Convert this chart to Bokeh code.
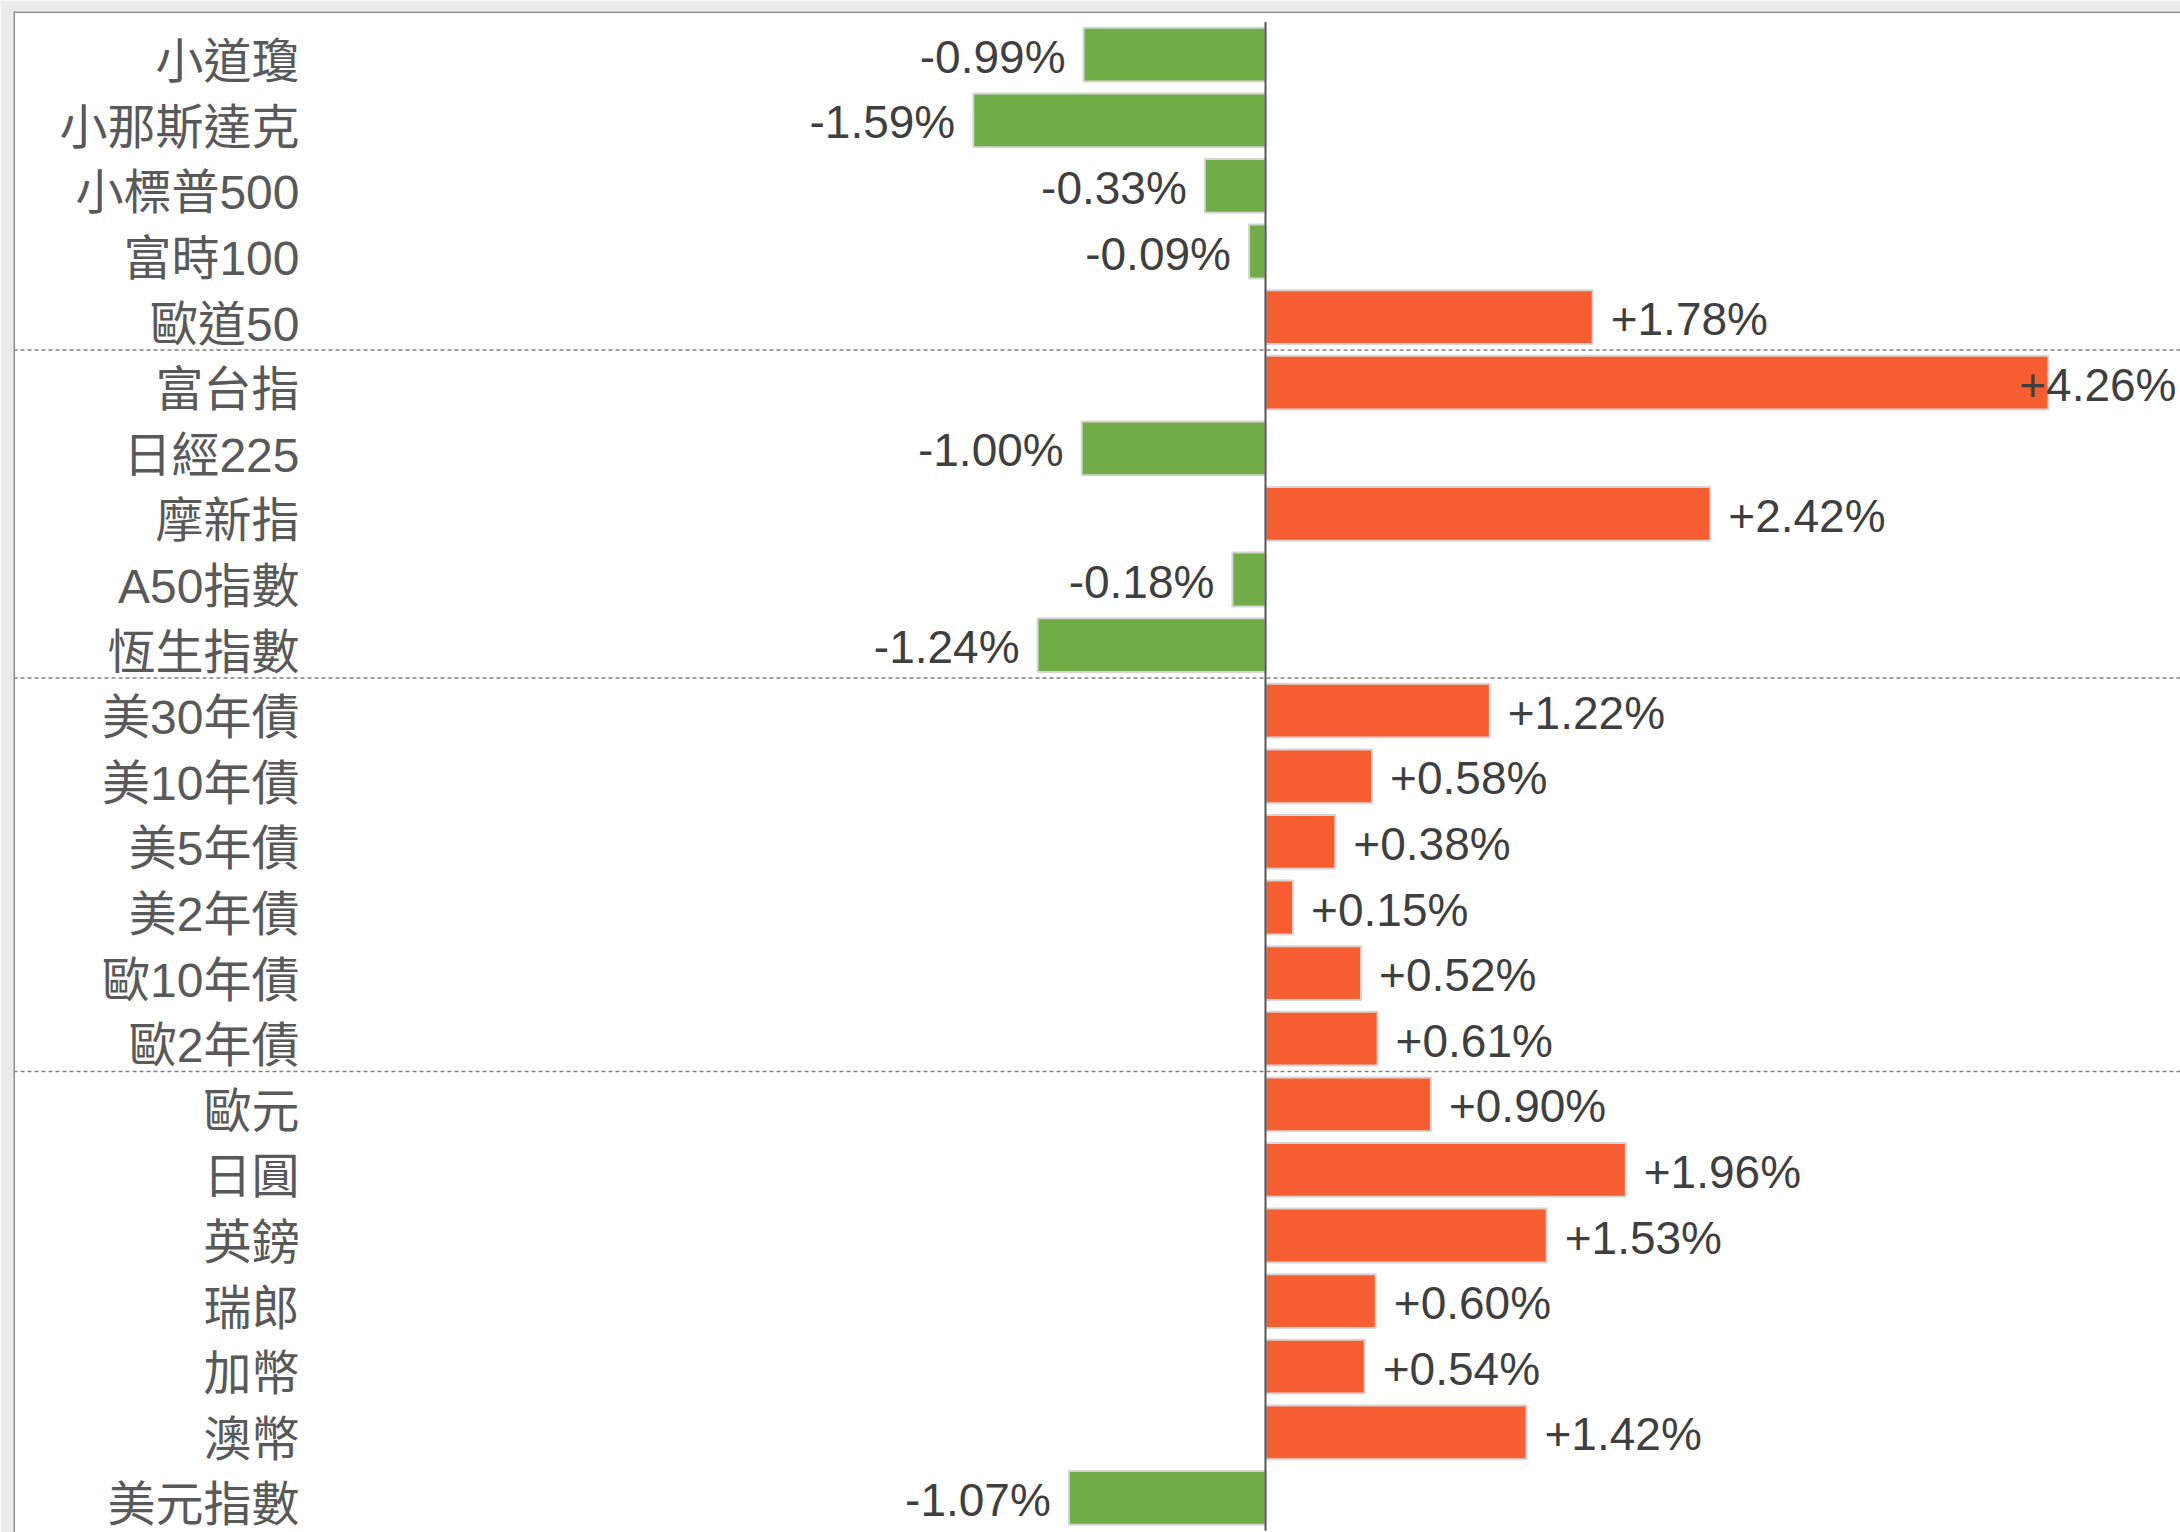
from bokeh.plotting import figure
from bokeh.models import ColumnDataSource, Range1d, Span
from bokeh.core.properties import value
from bokeh.embed import file_html
from bokeh.resources import INLINE

# ---- data ----
categories = ["小道瓊", "小那斯達克", "小標普500", "富時100", "歐道50",
              "富台指", "日經225", "摩新指", "A50指數", "恆生指數",
              "美30年債", "美10年債", "美5年債", "美2年債", "歐10年債", "歐2年債",
              "歐元", "日圓", "英鎊", "瑞郎", "加幣", "澳幣", "美元指數"]
changes = [-0.99, -1.59, -0.33, -0.09, 1.78,
           4.26, -1.00, 2.42, -0.18, -1.24,
           1.22, 0.58, 0.38, 0.15, 0.52, 0.61,
           0.90, 1.96, 1.53, 0.60, 0.54, 1.42, -1.07]
group_sizes = [5, 5, 6, 7]

# ---- layout constants ----
W, H = 2180, 1532
BL, BT = 13, 11
FRAME_W, FRAME_H = W - BL, H - BT
PX_PER_PCT = 183.8
ROW_PX = 65.6
ZERO_PX = 1252           # zero position from frame left
FIRST_ROW_PX = 43.2      # first row centre from frame top
LABEL_PX = 286           # right edge of category labels from frame left
FONT_SIZE = 46
LABEL_FONT_SIZE = 48
GAP = 18

x_start = -ZERO_PX / PX_PER_PCT
x_end = (FRAME_W - ZERO_PX) / PX_PER_PCT
y_top = -FIRST_ROW_PX / ROW_PX
y_bottom = y_top + FRAME_H / ROW_PX
label_x = (LABEL_PX - ZERO_PX) / PX_PER_PCT

GREEN = "#70AD47"
RED = "#F65D31"

char_w = {"+": 0.584, "-": 0.333, ".": 0.278, "%": 0.889}

def text_width(s):
    return sum(char_w.get(c, 0.556) for c in s) * FONT_SIZE

rows = list(range(len(categories)))
texts, xs, aligns, offs = [], [], [], []
for v in changes:
    t = ("+" if v > 0 else "") + f"{v:.2f}%"
    texts.append(t)
    if v < 0:
        xs.append(v); aligns.append("right"); offs.append(-GAP)
    else:
        end_px = ZERO_PX + v * PX_PER_PCT + GAP + text_width(t)
        if end_px > FRAME_W:
            xs.append(x_end); aligns.append("right"); offs.append(-4)
        else:
            xs.append(v); aligns.append("left"); offs.append(GAP)

src = ColumnDataSource(dict(
    y=rows, v=changes, cat=categories,
    color=[RED if v > 0 else GREEN for v in changes],
    txt=texts, tx=xs, align=aligns, off=offs,
    lx=[label_x] * len(categories),
))

p = figure(width=W, height=H, output_backend="svg", toolbar_location=None,
           x_range=Range1d(x_start, x_end), y_range=Range1d(y_bottom, y_top),
           min_border_left=BL, min_border_top=BT, min_border_right=0, min_border_bottom=0)
p.xaxis.visible = False
p.yaxis.visible = False
p.xgrid.grid_line_color = None
p.ygrid.grid_line_color = None
p.outline_line_color = None
p.border_fill_color = "#ebebeb"
p.background_fill_color = "white"

p.hbar(y="y", left=0, right="v", height=0.82, fill_color="color",
       line_color="#d6d6d6", line_width=2, source=src)

# group separators
acc = 0
for g in group_sizes[:-1]:
    acc += g
    p.add_layout(Span(location=acc - 0.5, dimension="width", line_color="#7f7f7f",
                      line_width=1.5, line_dash="4 3"))

# zero line
p.segment(x0=0, y0=-0.5, x1=0, y1=len(categories) - 0.5, line_color="#555555", line_width=2)

# panel border (top, left)
p.add_layout(Span(location=x_start, dimension="height", line_color="#8c8c8c", line_width=3))
p.add_layout(Span(location=y_top, dimension="width", line_color="#8c8c8c", line_width=3))

FONT = value("'Liberation Sans', 'Noto Sans CJK TC'")

p.text(x="tx", y="y", text="txt", source=src, text_align="align", x_offset="off",
       y_offset=2, text_baseline="middle", text_font=FONT,
       text_font_size=f"{FONT_SIZE}px", text_color="#3f3f3f")

p.text(x="lx", y="y", text="cat", source=src, text_align="right", y_offset=7,
       text_baseline="middle", text_font=FONT,
       text_font_size=f"{LABEL_FONT_SIZE}px", text_color="#595959")

open("out.html", "w").write(file_html(p, INLINE))
